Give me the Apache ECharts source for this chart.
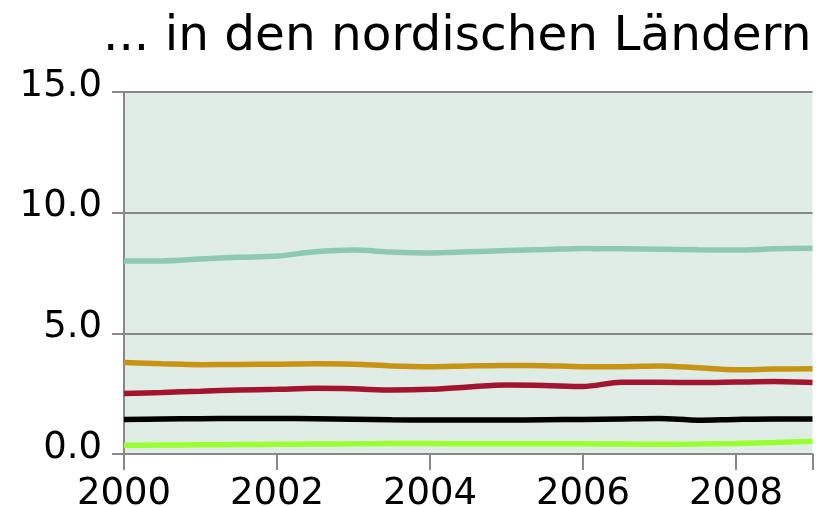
<!DOCTYPE html>
<html>
<head>
<meta charset="utf-8">
<script src="https://cdn.jsdelivr.net/npm/echarts@6/dist/echarts.min.js"></script>
<style>
  html, body { margin: 0; padding: 0; background: #fff; }
  #chart { width: 824px; height: 506px; }
</style>
</head>
<body>
<div id="chart"></div>
<script>
const years = [2000, 2000.5, 2001, 2001.5, 2002, 2002.5, 2003, 2003.5, 2004, 2004.5,
  2005, 2005.5, 2006, 2006.5, 2007, 2007.5, 2008, 2008.5, 2009];
const tealValues = [8.0, 8.0, 8.08, 8.15, 8.2, 8.38, 8.45, 8.37, 8.33, 8.38,
  8.43, 8.47, 8.52, 8.5, 8.48, 8.46, 8.45, 8.5, 8.53];
const orangeValues = [3.79, 3.74, 3.7, 3.71, 3.72, 3.74, 3.72, 3.65, 3.62, 3.65,
  3.67, 3.66, 3.62, 3.62, 3.65, 3.57, 3.49, 3.52, 3.53];
const redValues = [2.51, 2.55, 2.6, 2.65, 2.68, 2.72, 2.7, 2.65, 2.68, 2.78,
  2.86, 2.84, 2.8, 2.97, 2.97, 2.96, 2.98, 3.0, 2.96];
const blackValues = [1.43, 1.45, 1.46, 1.47, 1.47, 1.46, 1.44, 1.42, 1.41, 1.41,
  1.41, 1.42, 1.43, 1.45, 1.47, 1.4, 1.43, 1.45, 1.45];
const greenValues = [0.36, 0.37, 0.38, 0.39, 0.4, 0.41, 0.42, 0.43, 0.43, 0.42,
  0.42, 0.42, 0.42, 0.41, 0.4, 0.41, 0.44, 0.48, 0.53];
const xTickLabels = [2000, 2002, 2004, 2006, 2008];
const yTickLabels = [0, 5, 10, 15];

const toPairs = (vals) => years.map((y, i) => [y, vals[i]]);

const line = (vals, color) => ({
  type: "line",
  data: toPairs(vals),
  smooth: 0.3,
  symbol: "none",
  lineStyle: { color: color, width: 5.5 },
  z: 3
});

const chart = echarts.init(document.getElementById("chart"), null, { renderer: "canvas" });
chart.setOption({
  animation: false,
  title: {
    text: "... in den nordischen Ländern",
    left: 98,
    top: 8,
    textStyle: { fontFamily: "DejaVu Sans", fontSize: 48.5, fontWeight: "normal", color: "#000" }
  },
  grid: {
    left: 124, top: 92, right: 11.5, bottom: 52,
    outerBoundsMode: "none",
    show: true, backgroundColor: "#e0ede6", borderWidth: 0
  },
  xAxis: {
    type: "value",
    min: 2000,
    max: 2009,
    interval: 2,
    axisLine: { lineStyle: { color: "#888", width: 2 } },
    axisTick: { show: true, length: 16, lineStyle: { color: "#888", width: 2 } },
    axisLabel: {
      customValues: xTickLabels,
      margin: 22,
      fontFamily: "DejaVu Sans",
      fontSize: 37,
      color: "#000",
      formatter: (v) => String(v)
    },
    splitLine: { show: false }
  },
  yAxis: {
    type: "value",
    min: 0,
    max: 15,
    interval: 5,
    axisLine: { show: true, lineStyle: { color: "#888", width: 2 } },
    axisTick: { show: true, length: 12, lineStyle: { color: "#888", width: 2 } },
    axisLabel: {
      customValues: yTickLabels,
      margin: 22,
      verticalAlign: "bottom",
      lineHeight: 12,
      fontFamily: "DejaVu Sans",
      fontSize: 37,
      color: "#000",
      formatter: (v) => v.toFixed(1)
    },
    splitLine: { show: true, lineStyle: { color: "#888", width: 2 } }
  },
  series: [
    line(tealValues, "#8ecab2"),
    line(orangeValues, "#c89416"),
    line(redValues, "#a3142e"),
    line(blackValues, "#000000"),
    line(greenValues, "#99ff33")
  ]
});
</script>
</body>
</html>
